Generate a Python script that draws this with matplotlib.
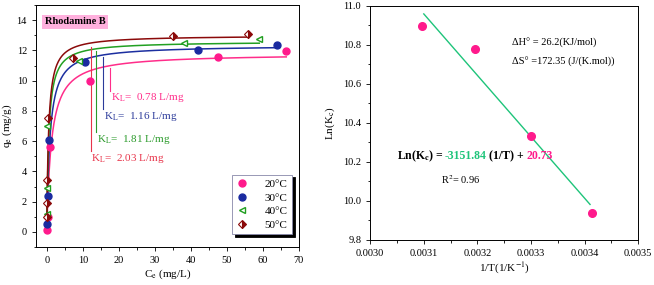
import numpy as np
import matplotlib.pyplot as plt
from matplotlib.ticker import MultipleLocator

plt.rcParams['font.family'] = ['Liberation Serif', 'DejaVu Serif']
plt.rcParams['mathtext.fontset'] = 'stix'
plt.rcParams['font.size'] = 8

# Langmuir isotherm data (Ce in mg/L, qe in mg/g)
temps = ['20°C', '30°C', '40°C', '50°C']
ce_20 = [0.2, 0.3, 1.0, 12.0, 47.5, 66.5]
qe_20 = [0.15, 1.0, 5.6, 10.0, 11.6, 11.95]
ce_30 = [0.1, 0.3, 0.6, 10.5, 42.0, 64.0]
qe_30 = [0.5, 2.4, 6.1, 11.25, 12.05, 12.35]
ce_40 = [0.0, 0.0, 0.1, 9.0, 38.0, 59.0]
qe_40 = [1.2, 2.9, 7.0, 11.3, 12.5, 12.75]
ce_50 = [0.1, 0.0, 0.2, 0.3, 7.3, 35.0, 56.0]
qe_50 = [1.0, 1.9, 3.45, 7.55, 11.5, 12.95, 13.1]

# fitted Langmuir parameters
kl = [0.78, 1.16, 1.81, 2.03]
qmax = [11.8, 12.35, 12.6, 13.0]
ce_end = [66.5, 64.0, 59.0, 56.0]

# Van't Hoff data
inv_t = [0.003096, 0.003195, 0.00330, 0.003413]
ln_kc = [10.895, 10.78, 10.335, 9.94]
slope = -3151.84
intercept = 20.73
fit_x = [0.00310, 0.00341]

curve_cols = ['#ff2d8a', '#1c2fa0', '#22a022', '#8b0a0a']
label_cols = ['#ff2d8a', '#2b3a9a', '#2a9a2a', '#e8344a']

fig = plt.figure(figsize=(6.54, 2.85), dpi=100)
ax1 = fig.add_axes([0.055, 0.133, 0.402, 0.849])
ax2 = fig.add_axes([0.566, 0.158, 0.41, 0.821])

# left panel: fitted curves
for i in range(4):
    c = np.linspace(0, ce_end[i], 400)
    q = qmax[i] * kl[i] * c / (1 + kl[i] * c)
    ax1.plot(c, q, color=curve_cols[i], lw=1.1, zorder=2)

ax1.plot(ce_20, qe_20, 'o', ms=5, mfc='#ff1a8c', mec='#ff1a8c', ls='none', label=temps[0], zorder=3)
ax1.plot(ce_30, qe_30, 'o', ms=5, mfc='#1a2aa0', mec='#1a2aa0', ls='none', label=temps[1], zorder=3)
ax1.plot(ce_40, qe_40, '<', ms=5, mfc='white', mec='#1f9e1f', mew=1.0, ls='none', label=temps[2], zorder=3)
ax1.plot(ce_50, qe_50, 'D', ms=4.5, fillstyle='right', mfc='#8b0a0a', mfcalt='white',
         mec='#8b0a0a', mew=0.8, ls='none', label=temps[3], zorder=3)

# K_L annotation lines and labels
ann_x = [17.6, 15.7, 13.8, 12.2]
ann_top = [10.85, 11.55, 11.95, 12.25]
ann_bot = [9.35, 8.1, 6.6, 5.35]
for i in range(4):
    ax1.plot([ann_x[i], ann_x[i]], [ann_bot[i], ann_top[i]], color=label_cols[i], lw=0.8)
    ax1.text(ann_x[i] + 0.2, ann_bot[i] - 0.05, r'K$_\mathrm{L}$=  %.2f L/mg' % kl[i],
             color=label_cols[i], fontsize=8, va='top', ha='left')

ax1.text(-0.5, 13.9, 'Rhodamine B', fontsize=7.5, fontweight='bold', va='center',
         bbox=dict(boxstyle='square,pad=0.25', fc='#ffb0dd', ec='none'))

ax1.set_xlim(-3, 70)
ax1.set_ylim(-1, 15)
ax1.xaxis.set_major_locator(MultipleLocator(10))
ax1.xaxis.set_minor_locator(MultipleLocator(5))
ax1.yaxis.set_minor_locator(MultipleLocator(1))
ax1.set_yticks(range(0, 15, 2))
ax1.set_xlabel(r'C$_\mathrm{e}$ (mg/L)', fontsize=8, labelpad=2)
ax1.set_ylabel(r'q$_\mathrm{e}$ (mg/g)', fontsize=8)
ax1.yaxis.set_label_coords(-0.085, 0.5)
leg = ax1.legend(loc='lower right', bbox_to_anchor=(0.995, 0.03), fontsize=8, frameon=True,
                 fancybox=False, edgecolor='#8888aa', shadow={'color': 'black', 'alpha': 1.0},
                 handletextpad=1.5, borderpad=0.4, labelspacing=0.35, handlelength=1.0)
leg.get_frame().set_linewidth(0.6)

# right panel: Van't Hoff plot
fx = np.array(fit_x)
ax2.plot(fx, slope * fx + intercept, color='#1ec47a', lw=1.0, zorder=2)
ax2.plot(inv_t, ln_kc, 'o', ms=5.5, mfc='#ff1a8c', mec='#ff1a8c', ls='none', zorder=3)

ax2.text(0.003265, 10.81, 'ΔH° = 26.2(KJ/mol)', fontsize=7.5, va='center')
ax2.text(0.003265, 10.715, 'ΔS° =172.35 (J/(K.mol))', fontsize=7.5, va='center')

# equation built from pieces so each part keeps its own colour
t = ax2.text(0.003050, 10.23, r'Ln(K$_\mathbf{c}$) = ', fontsize=8.5, fontweight='bold', va='center')
parts = [('-3151.84', '#1ec47a'), (' (1/T) + ', 'black'), ('20.73', '#ff1a8c')]
for s, col in parts:
    t = ax2.annotate(s, xy=(1, 0.5), xycoords=t, va='center', ha='left',
                     fontsize=8.5, fontweight='bold', color=col)
ax2.text(0.003133, 10.11, r'R$^2$= 0.96', fontsize=7.5, va='center')

ax2.set_xlim(0.0030, 0.0035)
ax2.set_ylim(9.8, 11.0)
ax2.xaxis.set_major_locator(MultipleLocator(0.0001))
ax2.xaxis.set_minor_locator(MultipleLocator(0.00005))
ax2.yaxis.set_major_locator(MultipleLocator(0.2))
ax2.yaxis.set_minor_locator(MultipleLocator(0.1))
ax2.xaxis.set_major_formatter(plt.FuncFormatter(lambda v, p: '%.4f' % v))
ax2.yaxis.set_major_formatter(plt.FuncFormatter(lambda v, p: '%.1f' % v))
ax2.set_xlabel(r'1/T(1/K$^{-1}$)', fontsize=8, labelpad=2)
ax2.set_ylabel(r'Ln(K$_\mathrm{c}$)', fontsize=8, labelpad=4)

for ax in (ax1, ax2):
    ax.tick_params(which='both', direction='out', labelsize=7.5, width=0.6)
    ax.tick_params(which='major', length=3)
    ax.tick_params(which='minor', length=1.8)
    for s in ax.spines.values():
        s.set_linewidth(0.7)

fig.savefig('out.png', dpi=100)
